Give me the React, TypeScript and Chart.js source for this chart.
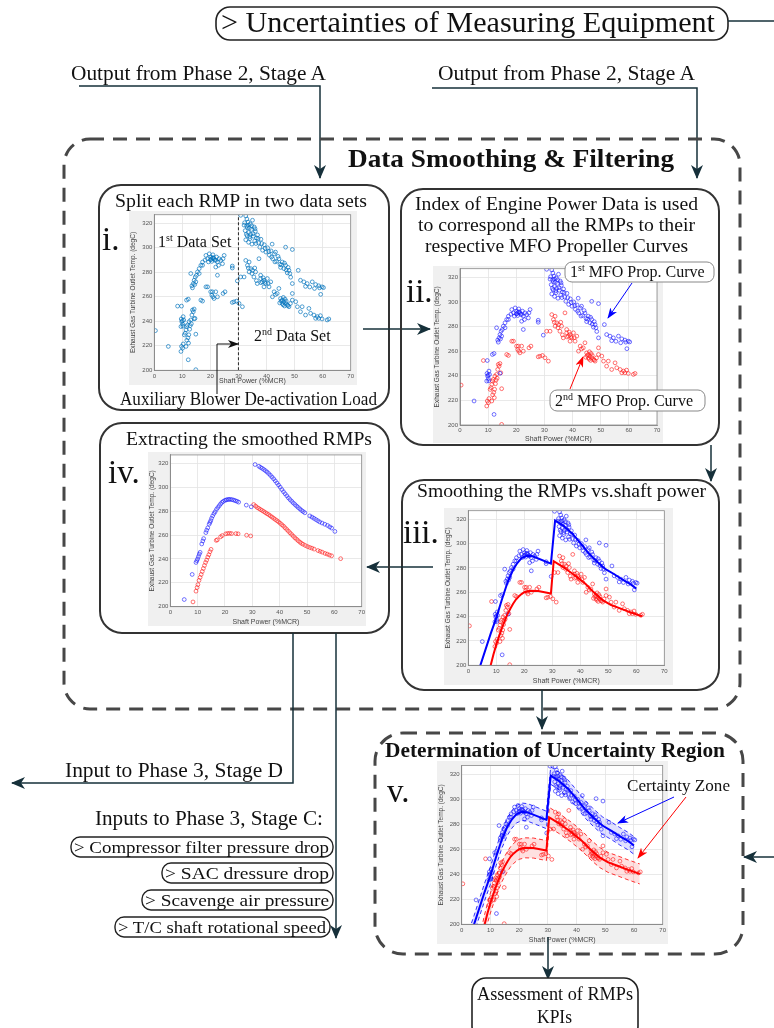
import React, { useEffect, useRef } from "react";
import { Chart, registerables } from "chart.js";

Chart.register(...registerables);

type Pt = [number, number];

// ---------- axes ----------
const X_TICKS = [0, 10, 20, 30, 40, 50, 60, 70];
const Y_TICKS = [200, 220, 240, 260, 280, 300, 320];
const X_MIN = 0;
const X_MAX = 70;
const Y_MIN = 200;
const Y_MAX = 327;
const X_TITLE = "Shaft Power (%MCR)";
const Y_TITLE = "Exhaust Gas Turbine Outlet Temp. (degC)";

// ---------- raw RMP points, 1st MFO propeller curve (blue) ----------
const firstCurvePoints: Pt[] = [
  [5.0, 219.5], [9.5, 235.7], [9.6, 241.9], [9.8, 239.7], [10.1, 237.6], [10.3, 243.8], [10.5, 241.0],
  [10.0, 240.5], [10.2, 236.0],
  [9.7, 252.4], [11.5, 257.3], [12.1, 258.1], [12.1, 208.6], [14.2, 242.0], [13.0, 279.0], [13.4, 269.0],
  [13.6, 267.3], [13.9, 270.8], [14.2, 273.5], [14.6, 276.2], [14.8, 272.2], [14.4, 270.0], [15.0, 277.5],
  [15.4, 280.3], [16.0, 283.0],
  [16.0, 279.0], [16.6, 285.7], [17.2, 288.4], [17.2, 285.7], [18.1, 290.0], [18.4, 293.8], [19.0, 291.1],
  [19.3, 288.5], [19.6, 295.1],
  [20.0, 290.3], [20.1, 292.4], [20.5, 288.9], [20.7, 291.5], [20.9, 294.3], [21.3, 291.1], [21.6, 290.0],
  [21.9, 289.7], [22.2, 292.5], [22.5, 288.4], [23.1, 291.1],
  [23.7, 289.7], [24.3, 287.0], [24.9, 293.8], [24.5, 291.1], [22.9, 285.7], [21.9, 284.3], [22.5, 277.6],
  [20.3, 290.5], [21.0, 292.0], [27.8, 285.1], [27.8, 283.5], [29.6, 273.0],
  [30.8, 326.5], [32.6, 326.0], [33.0, 323.5], [33.4, 321.0], [32.0, 318.5], [32.4, 314.0], [32.8, 311.0],
  [33.2, 316.5], [33.6, 312.5], [34.0, 309.0], [34.2, 319.5], [34.6, 315.0], [35.0, 322.5], [35.2, 311.5],
  [35.6, 317.0], [36.0, 313.5], [36.4, 308.0], [32.6, 306.5], [33.6, 304.5], [34.8, 303.0], [35.8, 305.5],
  [32.2, 320.5], [32.9, 317.8], [33.5, 318.5], [33.9, 316.0], [34.3, 311.0], [34.7, 318.0], [35.3, 309.5],
  [35.9, 315.5], [34.1, 307.5], [33.1, 309.8], [36.2, 303.5], [37.0, 307.5], [38.3, 303.5], [39.5, 299.5],
  [36.8, 310.5], [37.2, 304.0], [37.6, 300.5], [38.0, 307.0], [38.6, 298.0], [39.2, 302.5], [39.8, 296.5],
  [40.4, 300.0], [40.8, 297.0], [41.0, 294.0], [41.6, 297.5], [41.8, 292.5], [42.0, 303.0], [42.2, 291.0],
  [42.8, 295.0], [43.0, 288.5], [43.2, 296.5], [44.1, 293.0],
  [43.6, 289.0], [44.4, 291.0], [44.8, 286.5], [45.0, 284.0], [45.3, 286.0], [45.6, 288.4], [46.2, 283.0],
  [46.4, 287.5], [46.8, 285.7], [47.0, 282.0], [47.7, 284.0], [48.3, 279.0],
  [46.8, 300.5], [47.4, 279.5], [48.0, 281.6], [48.6, 276.0], [49.2, 298.6], [49.2, 270.8], [51.3, 281.6],
  [52.1, 273.5], [53.3, 272.2], [53.9, 268.5], [54.5, 270.8], [55.4, 268.0], [56.3, 272.2], [57.1, 266.8],
  [57.5, 270.0], [58.6, 269.0], [58.9, 267.3], [59.3, 262.0], [59.8, 268.1], [60.3, 267.5],
];

// ---------- raw RMP points, 2nd MFO propeller curve (red) ----------
const secondCurvePoints: Pt[] = [
  [0.4, 232.4], [8.3, 252.4], [9.5, 215.4], [9.7, 219.5], [10.1, 218.1], [10.3, 221.5], [10.7, 228.9],
  [11.0, 230.3], [11.6, 224.5], [12.0, 226.5], [12.3, 229.0], [12.8, 236.5], [13.2, 238.0],
  [11.3, 233.0], [11.3, 219.5], [11.5, 235.7], [11.8, 237.0], [12.2, 222.2], [12.4, 239.7], [12.6, 233.5],
  [13.0, 241.1], [13.4, 245.1], [13.6, 249.2], [13.9, 247.8], [14.2, 250.0], [14.5, 242.4], [14.8, 229.5],
  [14.8, 200.5], [16.6, 257.3], [17.2, 256.5], [18.4, 268.1], [19.0, 268.1], [20.1, 264.1], [20.5, 261.4],
  [20.7, 264.1], [20.9, 260.0], [21.3, 258.6], [21.9, 264.1], [22.5, 260.0], [24.5, 262.7], [25.2, 264.1],
  [27.8, 255.4], [28.4, 255.9], [29.3, 256.5], [30.2, 254.6], [31.4, 251.9],
  [30.8, 276.2], [32.0, 276.2], [32.6, 289.7], [33.2, 285.7], [33.5, 283.5], [33.8, 288.4], [33.8, 280.3],
  [34.4, 283.0], [34.8, 279.0], [35.8, 283.5], [36.4, 273.2],
  [35.0, 281.6], [35.5, 276.2], [36.1, 280.3], [36.7, 270.8], [37.3, 291.1], [37.9, 277.6], [37.9, 274.9],
  [38.0, 271.5], [38.8, 275.5], [39.4, 271.8], [40.6, 271.0],
  [38.5, 272.2], [39.1, 273.5], [39.1, 268.1], [39.7, 270.8], [40.3, 274.9], [40.9, 268.1], [41.5, 272.2],
  [42.1, 260.0], [42.7, 264.1], [43.2, 261.9], [43.8, 262.7], [44.4, 266.8], [45.0, 258.6], [45.6, 257.3],
  [45.2, 256.5], [45.9, 253.5], [46.4, 252.5], [47.0, 256.5], [47.7, 252.8], [46.0, 259.5], [44.7, 255.0],
  [48.5, 254.5],
  [45.6, 254.6], [46.2, 255.9], [46.6, 258.1], [46.8, 254.6], [47.4, 253.2], [48.0, 251.9], [49.2, 257.3],
  [49.2, 262.7], [50.4, 256.0], [51.0, 251.9], [52.1, 247.8], [52.7, 251.9], [53.9, 245.1], [55.1, 250.5],
  [55.7, 246.5], [56.9, 245.1], [57.5, 242.4], [58.1, 243.8], [58.6, 242.4], [59.2, 244.6], [59.8, 241.9],
  [61.6, 241.1], [62.2, 241.9],
];

// ---------- smoothed RMPs (panel iv) ----------
const firstSmoothed: Pt[] = [
  [5.1, 206], [8.0, 227], [9.4, 237], [9.7, 238.5], [10.0, 240], [10.3, 242], [10.6, 244], [10.9, 245.5],
  [11.5, 252.5], [11.9, 255], [12.2, 257], [13.0, 262], [13.3, 264], [13.7, 266], [14.2, 269], [14.5, 270.5],
  [14.8, 272], [15.1, 274], [15.5, 276], [16.0, 278], [16.4, 279.5], [16.9, 281.5], [17.4, 283], [17.9, 284.5],
  [18.4, 286], [18.9, 287.3], [19.4, 288.2], [20.0, 289], [20.5, 289.4], [21.0, 289.7], [21.5, 289.8],
  [22.0, 289.8], [22.6, 289.6], [23.2, 289.2], [23.8, 288.7], [24.4, 288.2], [25.0, 287.5], [27.8, 285],
  [29.6, 283.6],
  [31.0, 319], [32.4, 317.5], [33.0, 316.6], [33.6, 315.8], [34.2, 314.8], [34.8, 313.8], [35.4, 312.7],
  [36.0, 311.4], [36.6, 310], [37.2, 308.5], [37.8, 307], [38.4, 305.3], [39.0, 303.5], [39.6, 301.8],
  [40.2, 300], [40.8, 298], [41.4, 296.2], [42.0, 294.5], [42.6, 292.8], [43.2, 291.1], [43.8, 289.6],
  [44.4, 288.2], [45.0, 286.8], [45.6, 285.5], [46.2, 284.2], [46.8, 283], [47.4, 281.8], [48.0, 280.6],
  [48.6, 279.6], [49.2, 278.6], [51.0, 276], [51.8, 275], [52.5, 274], [53.2, 273], [53.9, 272], [54.6, 271],
  [55.5, 270], [56.5, 269], [57.5, 268], [58.3, 266.8], [59.0, 265.8], [60.2, 263],
];
const secondSmoothed: Pt[] = [
  [8.3, 204], [9.4, 213], [9.8, 216], [10.1, 218.5], [10.5, 222], [10.9, 224.5], [11.3, 227], [11.7, 229.5],
  [12.1, 232], [12.5, 234.5], [12.9, 237], [13.3, 239], [13.7, 241.5], [14.1, 243.5], [14.5, 246], [14.9, 248],
  [16.8, 255.5], [17.2, 256], [18.4, 258.5], [19.0, 259.5], [20.3, 261], [21.0, 261.3], [21.7, 261.4],
  [22.4, 261.2], [24.0, 261.2], [24.8, 261], [27.9, 259.8], [29.4, 259.2],
  [30.5, 285.5], [31.2, 284.2], [31.8, 283], [32.4, 282.2], [33.0, 281.3], [33.6, 280.5], [34.2, 279.6],
  [34.8, 278.7], [35.4, 277.8], [36.0, 277], [36.6, 276], [37.2, 275], [37.8, 274], [38.4, 273], [39.0, 272],
  [39.6, 271], [40.2, 269.8], [40.8, 268.6], [41.4, 267.4], [42.0, 266], [42.6, 264.6], [43.2, 263.2],
  [43.8, 261.8], [44.4, 260.4], [45.0, 259], [45.6, 257.6], [46.2, 256.4], [46.8, 255.2], [47.4, 254],
  [48.0, 253], [48.6, 252.2], [49.4, 251.2], [50.2, 250.3], [51.0, 249.6], [51.8, 249], [52.6, 248.2],
  [54.0, 247], [54.8, 246.3], [55.6, 245.6], [56.6, 244.6], [57.4, 244], [58.2, 243.2], [59.0, 242.6],
  [62.3, 240.2],
];

// ---------- fitted smoothing lines (panels iii and v) ----------
const firstFit: Pt[] = [
  [3.4, 194], [4.3, 200], [8, 226], [10, 239], [12, 254], [14, 268], [16, 278.5], [17.5, 284], [19, 288],
  [21, 290], [23, 289.5], [29.5, 283.5], [31, 319], [34, 314.5], [37, 308.5], [40, 300.5], [43, 292],
  [46, 285], [49, 279], [52, 275], [55, 270.5], [58, 266.5], [60, 263],
];
const secondFit: Pt[] = [
  [7.4, 194], [8, 200], [9, 209], [10, 217], [11, 224], [12, 230.5], [13, 236.5], [14, 242], [15, 246.5],
  [16, 250.5], [17, 254], [18, 256.5], [19, 258.5], [20, 260], [22, 261.2], [25, 261], [29.5, 259],
  [30.5, 285.5], [34, 280.5], [38, 274], [42, 266.5], [45, 259.5], [48, 253.5], [51, 249.5], [54, 247],
  [58, 243.5], [62, 240.3],
];
// half-width of the uncertainty (certainty zone) bands, degC
const firstBandHalfWidth = 7;
const secondBandHalfWidth = 8;
// auxiliary blower de-activation load, %MCR
const deactivationLoad = 30;

// ---------- styling ----------
const SANS = "'Liberation Sans', Arial, sans-serif";
const SERIF = "'Liberation Serif', 'Times New Roman', serif";
const ARROW = "#16303a";
const BOX = "#333";
const BLUE = "rgba(20,20,255,0.75)";
const RED = "rgba(255,20,20,0.75)";
const MBLUE = "rgba(0,114,189,0.85)";

type Geo = { gx: number; gy: number; gw: number; gh: number; x0: number; x70: number; y320: number; y200: number };

const GEO: Record<string, Geo> = {
  i: { gx: 129, gy: 211, gw: 228, gh: 174, x0: 154.3, x70: 350.7, y320: 223.3, y200: 370.3 },
  ii: { gx: 433, gy: 266, gw: 230, gh: 177, x0: 460, x70: 657, y320: 277, y200: 425 },
  iii: { gx: 444, gy: 508, gw: 229, gh: 177, x0: 468.3, x70: 664.3, y320: 518.3, y200: 665.3 },
  iv: { gx: 148, gy: 452, gw: 218, gh: 174, x0: 170.3, x70: 361.7, y320: 463.3, y200: 606.7 },
  v: { gx: 437, gy: 761, gw: 231, gh: 183, x0: 461.7, x70: 662.7, y320: 774.3, y200: 924.3 },
};

const toXY = (pts: Pt[]) => pts.map(([x, y]) => ({ x, y }));
const offsetXY = (pts: Pt[], d: number) => pts.map(([x, y]) => ({ x, y: y + d }));

const scatterSet = (pts: Pt[], color: string) => ({
  data: toXY(pts),
  showLine: false,
  pointRadius: 1.9,
  pointBorderWidth: 0.8,
  pointBorderColor: color,
  pointBackgroundColor: "rgba(0,0,0,0)",
  pointHoverRadius: 0,
  fill: false,
});
const lineSet = (data: { x: number; y: number }[], color: string, width: number, dash: number[] = [], fill: any = false, bg = "rgba(0,0,0,0)") => ({
  data,
  borderColor: color,
  borderWidth: width,
  borderDash: dash,
  pointRadius: 0,
  pointHoverRadius: 0,
  tension: 0,
  fill,
  backgroundColor: bg,
});

const plotBg = {
  id: "plotBg",
  beforeDraw(chart: any) {
    const { ctx, chartArea: a } = chart;
    ctx.save();
    ctx.fillStyle = "#ffffff";
    ctx.fillRect(a.left, a.top, a.right - a.left, a.bottom - a.top);
    ctx.restore();
  },
  afterDraw(chart: any) {
    const { ctx, chartArea: a } = chart;
    ctx.save();
    ctx.strokeStyle = "#8a8a8a";
    ctx.lineWidth = 0.8;
    ctx.strokeRect(a.left, a.top, a.right - a.left, a.bottom - a.top);
    ctx.restore();
  },
};

function makeConfig(g: Geo, datasets: any[]): any {
  const ppu = (g.y200 - g.y320) / 120;
  const top = g.y320 - (Y_MAX - 320) * ppu;
  return {
    type: "line",
    data: { datasets },
    options: {
      responsive: false,
      animation: false,
      events: [],
      layout: { padding: { left: 0, top: top - g.gy, right: g.gx + g.gw - g.x70, bottom: 0 } },
      plugins: { legend: { display: false }, tooltip: { enabled: false } },
      scales: {
        x: {
          type: "linear",
          min: X_MIN,
          max: X_MAX,
          afterBuildTicks: (s: any) => {
            s.ticks = X_TICKS.map((v) => ({ value: v }));
          },
          afterFit: (s: any) => {
            s.height = g.gy + g.gh - g.y200;
            s.paddingLeft = 0;
            s.paddingRight = 0;
          },
          ticks: { font: { family: SANS, size: 6 }, color: "#555", padding: 2, maxRotation: 0, autoSkip: false },
          grid: { color: "#e3e3e3", lineWidth: 0.8, drawTicks: false },
          border: { color: "#7a7a7a", width: 0.8 },
          title: { display: true, text: X_TITLE, font: { family: SANS, size: 7 }, color: "#444", padding: { top: 0, bottom: 0 } },
        },
        y: {
          type: "linear",
          min: Y_MIN,
          max: Y_MAX,
          afterBuildTicks: (s: any) => {
            s.ticks = Y_TICKS.map((v) => ({ value: v }));
          },
          afterFit: (s: any) => {
            s.width = g.x0 - g.gx;
            s.paddingTop = 0;
            s.paddingBottom = 0;
          },
          ticks: { font: { family: SANS, size: 6 }, color: "#555", padding: 2, autoSkip: false },
          grid: { color: "#e3e3e3", lineWidth: 0.8, drawTicks: false },
          border: { color: "#7a7a7a", width: 0.8 },
          title: { display: true, text: Y_TITLE, font: { family: SANS, size: 6.5 }, color: "#444", padding: { top: 0, bottom: 0 } },
        },
      },
    },
    plugins: [plotBg],
  };
}

const fitLines = () => [
  lineSet(toXY(firstFit), "rgb(0,0,255)", 2),
  lineSet(toXY(secondFit), "rgb(255,0,0)", 2),
];

const CHARTS: { g: Geo; datasets: () => any[] }[] = [
  {
    g: GEO.i,
    datasets: () => [
      lineSet([{ x: deactivationLoad, y: Y_MIN }, { x: deactivationLoad, y: Y_MAX }], "#333", 1.1, [3, 2]),
      scatterSet([...firstCurvePoints, ...secondCurvePoints], MBLUE),
    ],
  },
  {
    g: GEO.ii,
    datasets: () => [scatterSet(firstCurvePoints, BLUE), scatterSet(secondCurvePoints, RED)],
  },
  {
    g: GEO.iii,
    datasets: () => [...fitLines(), scatterSet(firstCurvePoints, BLUE), scatterSet(secondCurvePoints, RED)],
  },
  {
    g: GEO.iv,
    datasets: () => [scatterSet(firstSmoothed, BLUE), scatterSet(secondSmoothed, RED)],
  },
  {
    g: GEO.v,
    datasets: () => [
      ...fitLines(),
      lineSet(offsetXY(firstFit, firstBandHalfWidth), "rgba(0,0,255,0.8)", 1, [4, 3], "+1", "rgba(60,60,255,0.16)"),
      lineSet(offsetXY(firstFit, -firstBandHalfWidth), "rgba(0,0,255,0.8)", 1, [4, 3]),
      lineSet(offsetXY(secondFit, secondBandHalfWidth), "rgba(255,0,0,0.8)", 1, [4, 3], "+1", "rgba(255,60,60,0.16)"),
      lineSet(offsetXY(secondFit, -secondBandHalfWidth), "rgba(255,0,0,0.8)", 1, [4, 3]),
      scatterSet(firstCurvePoints, BLUE),
      scatterSet(secondCurvePoints, RED),
    ],
  },
];

const T = (p: any) => (
  <text fill="#111" style={{ fontFamily: SERIF }} lengthAdjust={p.textLength ? "spacingAndGlyphs" : undefined} {...p} />
);

export default function App() {
  const refs = useRef<(HTMLCanvasElement | null)[]>([]);

  useEffect(() => {
    const charts = CHARTS.map((c, i) => new Chart(refs.current[i] as HTMLCanvasElement, makeConfig(c.g, c.datasets())));
    return () => charts.forEach((ch) => ch.destroy());
  }, []);

  const arrowLine = { fill: "none", stroke: ARROW, strokeWidth: 1.5 };
  const boxStyle = { fill: "none", stroke: BOX, strokeWidth: 2 };
  const dashed = { fill: "none", stroke: "#474747", strokeWidth: 3, strokeDasharray: "14 9" };
  const pill = { fill: "#fff", stroke: "#222", strokeWidth: 1.4 };

  return (
    <div style={{ position: "absolute", left: 0, top: 0, width: 774, height: 1028, background: "#fff", overflow: "hidden" }}>
      {CHARTS.map((c, i) => (
        <canvas
          key={i}
          ref={(el) => {
            refs.current[i] = el;
          }}
          width={c.g.gw}
          height={c.g.gh}
          style={{ position: "absolute", left: c.g.gx, top: c.g.gy, width: c.g.gw, height: c.g.gh, background: "#f0f0f0" }}
        />
      ))}
      <svg width={774} height={1028} style={{ position: "absolute", left: 0, top: 0, pointerEvents: "none" }}>
        <defs>
          <marker id="ah" viewBox="0 0 14 12" markerWidth={14} markerHeight={12} refX={13} refY={6} orient="auto" markerUnits="userSpaceOnUse">
            <path d="M0,0 L14,6 L0,12 L4,6 Z" fill={ARROW} />
          </marker>
          <marker id="ahs" viewBox="0 0 11 8" markerWidth={11} markerHeight={8} refX={10} refY={4} orient="auto" markerUnits="userSpaceOnUse">
            <path d="M0,0 L11,4 L0,8 L3,4 Z" fill="#111" />
          </marker>
          <marker id="ahb" viewBox="0 0 11 8" markerWidth={11} markerHeight={8} refX={10} refY={4} orient="auto" markerUnits="userSpaceOnUse">
            <path d="M0,0 L11,4 L0,8 L3,4 Z" fill="#0000ff" />
          </marker>
          <marker id="ahr" viewBox="0 0 11 8" markerWidth={11} markerHeight={8} refX={10} refY={4} orient="auto" markerUnits="userSpaceOnUse">
            <path d="M0,0 L11,4 L0,8 L3,4 Z" fill="#ff0000" />
          </marker>
        </defs>

        {/* top box */}
        <rect x={216} y={7} width={512} height={33} rx={14} fill="#fff" stroke="#222" strokeWidth={1.6} />
        <T x={221} y={32} fontSize={30} textLength={494}>{"> Uncertainties of Measuring Equipment"}</T>
        <line x1={728} y1={21} x2={774} y2={21} stroke={ARROW} strokeWidth={1.3} />

        {/* outputs from phase 2 */}
        <T x={71} y={80} fontSize={20} textLength={255}>Output from Phase 2, Stage A</T>
        <polyline points="79,86 320,86 320,178" {...arrowLine} markerEnd="url(#ah)" />
        <T x={438} y={80} fontSize={20} textLength={257}>Output from Phase 2, Stage A</T>
        <polyline points="432,88 697,88 697,178" {...arrowLine} markerEnd="url(#ah)" />

        {/* big dashed container */}
        <rect x={64} y={139} width={676} height={570} rx={26} {...dashed} />
        <T x={348} y={167} fontSize={25} fontWeight="bold" textLength={326}>{"Data Smoothing & Filtering"}</T>

        {/* box i */}
        <rect x={99} y={185} width={290} height={225} rx={22} {...boxStyle} />
        <T x={115} y={207} fontSize={19} textLength={252}>Split each RMP in two data sets</T>
        <T x={102} y={250} fontSize={33}>i.</T>
        <T x={158} y={247} fontSize={16}>
          1<tspan fontSize={10} dy={-6}>st</tspan>
          <tspan dy={6}> Data Set</tspan>
        </T>
        <T x={254} y={341} fontSize={16}>
          2<tspan fontSize={10} dy={-6}>nd</tspan>
          <tspan dy={6}> Data Set</tspan>
        </T>
        <polyline points="217,394 217,344 238,344" fill="none" stroke="#111" strokeWidth={1} markerEnd="url(#ahs)" />
        <T x={120} y={405} fontSize={18} textLength={257}>Auxiliary Blower De-activation Load</T>

        {/* i -> ii */}
        <line x1={363} y1={329} x2={430} y2={329} {...arrowLine} markerEnd="url(#ah)" />

        {/* box ii */}
        <rect x={401} y={189} width={318} height={256} rx={22} {...boxStyle} />
        <T x={415} y={210} fontSize={19} textLength={283}>Index of Engine Power Data is used</T>
        <T x={418} y={231} fontSize={19} textLength={277}>to correspond all the RMPs to their</T>
        <T x={425} y={252} fontSize={19} textLength={263}>respective MFO Propeller Curves</T>
        <T x={406} y={302} fontSize={33}>ii.</T>
        <rect x={565} y={262} width={149} height={20} rx={7} fill="#fff" stroke="#888" strokeWidth={1} />
        <T x={570} y={277} fontSize={16}>
          1<tspan fontSize={10} dy={-6}>st</tspan>
          <tspan dy={6}> MFO Prop. Curve</tspan>
        </T>
        <line x1={632} y1={283} x2={608} y2={318} stroke="#0000ff" strokeWidth={1} markerEnd="url(#ahb)" />
        <rect x={550} y={390} width={155} height={21} rx={7} fill="#fff" stroke="#888" strokeWidth={1} />
        <T x={555} y={406} fontSize={16}>
          2<tspan fontSize={10} dy={-6}>nd</tspan>
          <tspan dy={6}> MFO Prop. Curve</tspan>
        </T>
        <line x1={570} y1={389} x2={583} y2={357} stroke="#ff0000" strokeWidth={1} markerEnd="url(#ahr)" />

        {/* ii -> iii */}
        <line x1={711} y1={445} x2={711} y2={481} {...arrowLine} markerEnd="url(#ah)" />

        {/* box iii */}
        <rect x={402} y={480} width={317} height={210} rx={22} {...boxStyle} />
        <T x={417} y={497} fontSize={19} textLength={289}>Smoothing the RMPs vs.shaft power</T>
        <T x={403} y={543} fontSize={33}>iii.</T>

        {/* iii -> iv */}
        <line x1={433} y1={567} x2={367} y2={567} {...arrowLine} markerEnd="url(#ah)" />

        {/* box iv */}
        <rect x={100} y={423} width={289} height={210} rx={22} {...boxStyle} />
        <T x={126} y={445} fontSize={19} textLength={246}>Extracting the smoothed RMPs</T>
        <T x={108} y={483} fontSize={33}>iv.</T>

        {/* outputs from iv */}
        <polyline points="293,633 293,783 12,783" {...arrowLine} markerEnd="url(#ah)" />
        <line x1={336} y1={633} x2={336} y2={938} {...arrowLine} markerEnd="url(#ah)" />
        <T x={65} y={777} fontSize={20} textLength={218}>Input to Phase 3, Stage D</T>
        <T x={95} y={825} fontSize={20} textLength={228}>Inputs to Phase 3, Stage C:</T>
        <rect x={71} y={837} width={262} height={20} rx={9} {...pill} />
        <T x={74} y={853} fontSize={17} textLength={255}>{"> Compressor filter pressure drop"}</T>
        <rect x={162} y={863} width={171} height={20} rx={9} {...pill} />
        <T x={165} y={879} fontSize={17} textLength={164}>{"> SAC dressure drop"}</T>
        <rect x={142} y={890} width={191} height={20} rx={9} {...pill} />
        <T x={145} y={906} fontSize={17} textLength={184}>{"> Scavenge air pressure"}</T>
        <rect x={115} y={917} width={215} height={20} rx={9} {...pill} />
        <T x={118} y={933} fontSize={17} textLength={208}>{"> T/C shaft rotational speed"}</T>

        {/* iii -> v */}
        <line x1={542} y1={690} x2={542} y2={729} {...arrowLine} markerEnd="url(#ah)" />

        {/* box v */}
        <rect x={375} y={733} width={368} height={221} rx={28} {...dashed} />
        <T x={385} y={757} fontSize={20} fontWeight="bold" textLength={340}>Determination of Uncertainty Region</T>
        <T x={387} y={802} fontSize={33}>v.</T>
        <T x={627} y={791} fontSize={17} textLength={103}>Certainty Zone</T>
        <line x1={674} y1={797} x2={618} y2={823} stroke="#0000ff" strokeWidth={1} markerEnd="url(#ahb)" />
        <line x1={686} y1={797} x2={638} y2={858} stroke="#ff0000" strokeWidth={1} markerEnd="url(#ahr)" />
        <line x1={774} y1={857} x2={744} y2={857} {...arrowLine} markerEnd="url(#ah)" />

        {/* v -> assessment */}
        <line x1={548} y1={937} x2={548} y2={979} {...arrowLine} markerEnd="url(#ah)" />
        <rect x={472} y={978} width={166} height={62} rx={14} fill="#fff" stroke="#222" strokeWidth={1.6} />
        <T x={477} y={1000} fontSize={18} textLength={156}>Assessment of RMPs</T>
        <T x={537} y={1023} fontSize={18} textLength={35}>KPIs</T>
      </svg>
    </div>
  );
}
